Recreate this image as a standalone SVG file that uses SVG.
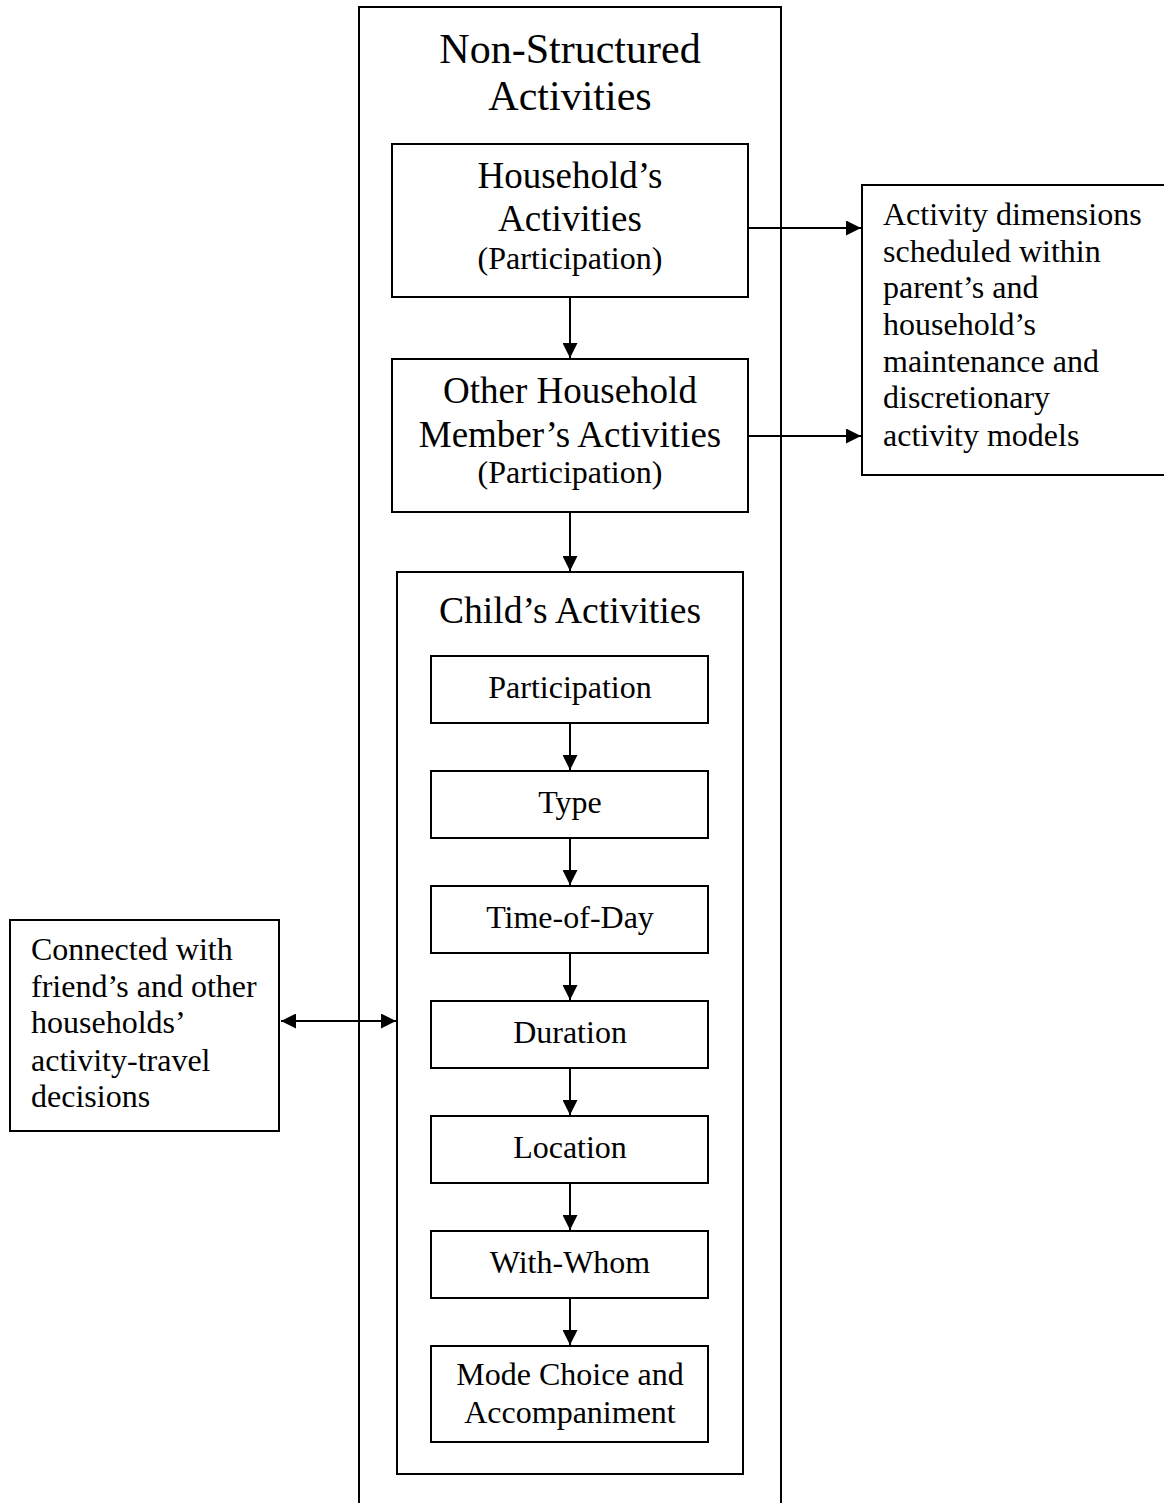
<svg xmlns="http://www.w3.org/2000/svg" width="1164" height="1503" viewBox="0 0 1164 1503">
<style>
.box{fill:#fff;stroke:#000;stroke-width:2}
.frame{fill:none;stroke:#000;stroke-width:2}
text{font-family:"Liberation Serif","Times New Roman",serif;fill:#000}
.c{text-anchor:middle}
.t41{font-size:42px}
.t37{font-size:37px}
.t38{font-size:37.6px}
.t32{font-size:32px}
.l{font-size:32px}
.conn line{stroke:#000;stroke-width:2}
</style>
<defs>
<marker id="ah" viewBox="0 0 15 15" refX="15" refY="7.5" markerWidth="15" markerHeight="15" markerUnits="userSpaceOnUse" orient="auto-start-reverse">
<path d="M0,0 L15,7.5 L0,15 Z" fill="#000"/>
</marker>
</defs>
<rect width="1164" height="1503" fill="#fff"/>

<g id="outer">
<rect class="frame" x="359" y="7" width="422" height="1510"/>
<text class="c t41" x="570" y="63">Non-Structured</text>
<text class="c t41" x="570" y="110">Activities</text>
</g>

<g id="household">
<rect class="box" x="392" y="144" width="356" height="153"/>
<text class="c t37" x="570" y="188">Household’s</text>
<text class="c t37" x="570" y="231">Activities</text>
<text class="c t32" x="570" y="269">(Participation)</text>
</g>

<g id="other">
<rect class="box" x="392" y="359" width="356" height="153"/>
<text class="c t37" x="570" y="403">Other Household</text>
<text class="c t37" x="570" y="447">Member’s Activities</text>
<text class="c t32" x="570" y="483">(Participation)</text>
</g>

<g id="child">
<rect class="box" x="397" y="572" width="346" height="902"/>
<text class="c t38" x="570" y="623">Child’s Activities</text>
</g>

<g id="participation">
<rect class="box" x="431" y="656" width="277" height="67"/>
<text class="c t32" x="570" y="698">Participation</text>
</g>
<g id="type">
<rect class="box" x="431" y="771" width="277" height="67"/>
<text class="c t32" x="570" y="813">Type</text>
</g>
<g id="timeofday">
<rect class="box" x="431" y="886" width="277" height="67"/>
<text class="c t32" x="570" y="928">Time-of-Day</text>
</g>
<g id="duration">
<rect class="box" x="431" y="1001" width="277" height="67"/>
<text class="c t32" x="570" y="1043">Duration</text>
</g>
<g id="location">
<rect class="box" x="431" y="1116" width="277" height="67"/>
<text class="c t32" x="570" y="1158">Location</text>
</g>
<g id="withwhom">
<rect class="box" x="431" y="1231" width="277" height="67"/>
<text class="c t32" x="570" y="1273">With-Whom</text>
</g>
<g id="mode">
<rect class="box" x="431" y="1346" width="277" height="96"/>
<text class="c t32" x="570" y="1385">Mode Choice and</text>
<text class="c t32" x="570" y="1423">Accompaniment</text>
</g>

<g id="rightnote">
<rect class="box" x="862" y="185" width="310" height="290"/>
<text class="l" x="883" y="225">Activity dimensions</text>
<text class="l" x="883" y="262">scheduled within</text>
<text class="l" x="883" y="298">parent’s and</text>
<text class="l" x="883" y="335">household’s</text>
<text class="l" x="883" y="372">maintenance and</text>
<text class="l" x="883" y="408">discretionary</text>
<text class="l" x="883" y="446">activity models</text>
</g>

<g id="leftnote">
<rect class="box" x="10" y="920" width="269" height="211"/>
<text class="l" x="31" y="960">Connected with</text>
<text class="l" x="31" y="997">friend’s and other</text>
<text class="l" x="31" y="1033">households’</text>
<text class="l" x="31" y="1071">activity-travel</text>
<text class="l" x="31" y="1107">decisions</text>
</g>

<g id="connectors" class="conn">
<line x1="570" y1="297" x2="570" y2="358" marker-end="url(#ah)"/>
<line x1="570" y1="512" x2="570" y2="571" marker-end="url(#ah)"/>
<line x1="570" y1="723" x2="570" y2="770" marker-end="url(#ah)"/>
<line x1="570" y1="838" x2="570" y2="885" marker-end="url(#ah)"/>
<line x1="570" y1="953" x2="570" y2="1000" marker-end="url(#ah)"/>
<line x1="570" y1="1068" x2="570" y2="1115" marker-end="url(#ah)"/>
<line x1="570" y1="1183" x2="570" y2="1230" marker-end="url(#ah)"/>
<line x1="570" y1="1298" x2="570" y2="1345" marker-end="url(#ah)"/>
<line x1="748" y1="228" x2="861" y2="228" marker-end="url(#ah)"/>
<line x1="748" y1="436" x2="861" y2="436" marker-end="url(#ah)"/>
<line x1="281" y1="1021" x2="396" y2="1021" marker-start="url(#ah)" marker-end="url(#ah)"/>
</g>
</svg>
